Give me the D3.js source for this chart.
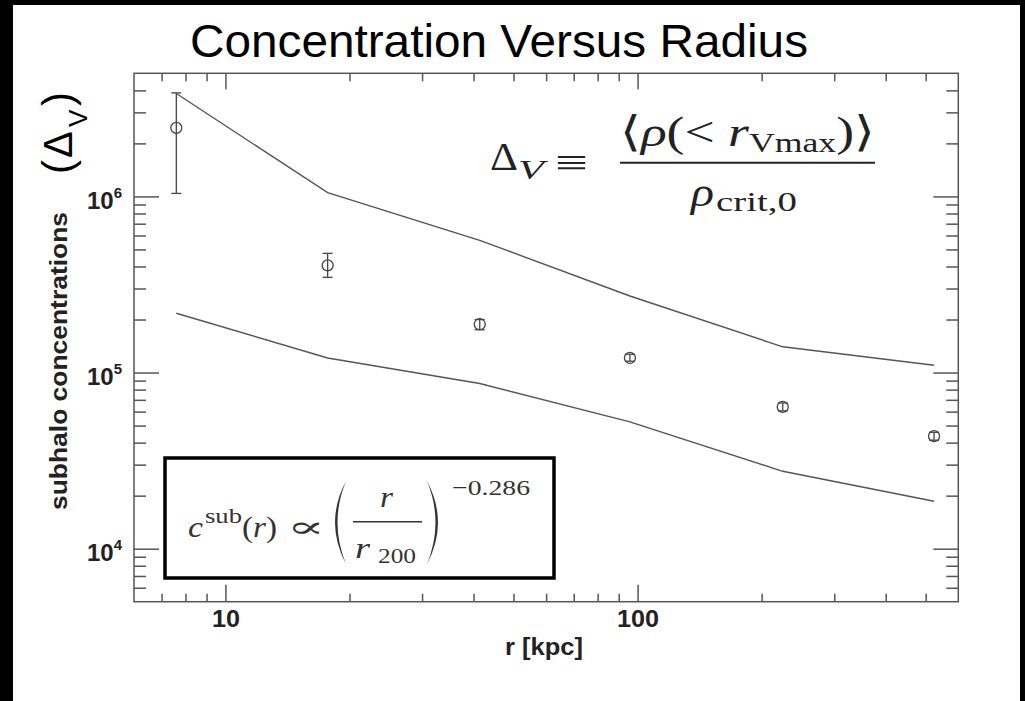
<!DOCTYPE html>
<html>
<head>
<meta charset="utf-8">
<script src="https://cdn.jsdelivr.net/npm/d3@7"></script>
<style>
  body { margin: 0; background: #000; }
  svg { display: block; }
  .axis line { stroke: #555; stroke-width: 1.5; }
  .axis path.domain { display: none; }
  .tick text { font-family: "Liberation Sans", Arial, sans-serif; font-weight: bold; fill: #222; }
  .math { font-family: "Liberation Serif", "DejaVu Serif", serif; fill: #222; }
</style>
</head>
<body>
<div id="chart"></div>
<script>
// radial bins of the subhalos [kpc]
const radius = [7.6, 17.7, 41.4, 95.8, 225, 524];
// mean concentration per bin, with error bar ends
const concentration = [2.45e6, 4.06e5, 1.88e5, 1.21e5, 6.38e4, 4.35e4];
const errLow = [1.04e6, 3.47e5, 1.75e5, 1.16e5, 6.06e4, 4.13e4];
const errHigh = [3.87e6, 4.75e5, 2.0e5, 1.27e5, 6.72e4, 4.58e4];
// scatter envelope
const upperBand = [3.84e6, 1.05e6, 5.63e5, 2.72e5, 1.40e5, 1.10e5];
const lowerBand = [2.17e5, 1.21e5, 8.66e4, 5.25e4, 2.75e4, 1.86e4];
// labelled ticks
const xTickLabels = [10, 100];
const yTickLabels = [1e4, 1e5, 1e6];

const W = 1025, H = 701;
const margin = {top: 73.3, left: 134, right: W - 958.3, bottom: H - 601.7};
const width = W - margin.left - margin.right;
const height = H - margin.top - margin.bottom;

const svg = d3.select("#chart").append("svg")
  .attr("width", W)
  .attr("height", H);

// black border, white page
svg.append("rect").attr("width", W).attr("height", H).attr("fill", "#000");
svg.append("rect").attr("x", 13).attr("y", 5).attr("width", 1007).attr("height", H - 5).attr("fill", "#fff");

svg.append("text")
  .attr("x", 499).attr("y", 57)
  .attr("text-anchor", "middle")
  .attr("font-family", "Liberation Sans, Arial, sans-serif")
  .attr("font-size", 47)
  .attr("textLength", 618).attr("lengthAdjust", "spacingAndGlyphs")
  .attr("fill", "#000")
  .text("Concentration Versus Radius");

const g = svg.append("g")
  .attr("transform", "translate(" + margin.left + "," + margin.top + ")");

const x = d3.scaleLog().domain([6, 600]).range([0, width]);
const y = d3.scaleLog().domain([5e3, 5e6]).range([height, 0]);

const xMinor = x.ticks().filter(d => !xTickLabels.includes(d) && d > 6 && d < 600);
const yMinor = y.ticks().filter(d => !yTickLabels.includes(d) && d > 5e3 && d < 5e6);

// ticks all point inward, majors longer than minors
g.append("g").attr("class", "axis").attr("transform", "translate(0," + height + ")")
  .call(d3.axisBottom(x).tickValues(xTickLabels).tickSize(-17).tickSizeOuter(0).tickPadding(8).tickFormat(d3.format("d")))
  .selectAll("text")
  .attr("font-size", 24).attr("dy", "0.71em")
  .attr("textLength", d => 14 * String(d).length).attr("lengthAdjust", "spacingAndGlyphs");
g.append("g").attr("class", "axis").attr("transform", "translate(0," + height + ")")
  .call(d3.axisBottom(x).tickValues(xMinor).tickSize(-8).tickSizeOuter(0).tickFormat(""));
g.append("g").attr("class", "axis")
  .call(d3.axisTop(x).tickValues(xTickLabels).tickSize(-16).tickSizeOuter(0).tickFormat(""));
g.append("g").attr("class", "axis")
  .call(d3.axisTop(x).tickValues(xMinor).tickSize(-8).tickSizeOuter(0).tickFormat(""));

const yAxis = g.append("g").attr("class", "axis")
  .call(d3.axisLeft(y).tickValues(yTickLabels).tickSize(-25).tickSizeOuter(0).tickPadding(12));
g.append("g").attr("class", "axis")
  .call(d3.axisLeft(y).tickValues(yMinor).tickSize(-12).tickSizeOuter(0).tickFormat(""));
g.append("g").attr("class", "axis").attr("transform", "translate(" + width + ",0)")
  .call(d3.axisRight(y).tickValues(yTickLabels).tickSize(-25).tickSizeOuter(0).tickFormat(""));
g.append("g").attr("class", "axis").attr("transform", "translate(" + width + ",0)")
  .call(d3.axisRight(y).tickValues(yMinor).tickSize(-12).tickSizeOuter(0).tickFormat(""));

// 10^n labels with a raised exponent
yAxis.selectAll(".tick text")
  .attr("dy", "0.5em")
  .attr("font-size", 24)
  .each(function(d) {
    const t = d3.select(this).text(null);
    t.append("tspan").text("10");
    t.append("tspan").attr("dy", -11).attr("font-size", 15).text(Math.round(Math.log10(d)));
  });

g.append("rect")
  .attr("width", width).attr("height", height)
  .attr("fill", "none").attr("stroke", "#555").attr("stroke-width", 1.5);

// axis titles
svg.append("text")
  .attr("x", 544).attr("y", 655)
  .attr("text-anchor", "middle")
  .attr("font-family", "Liberation Sans, Arial, sans-serif")
  .attr("font-weight", "bold").attr("font-size", 24)
  .attr("textLength", 78).attr("lengthAdjust", "spacingAndGlyphs")
  .attr("fill", "#222")
  .text("r [kpc]");

svg.append("text")
  .attr("transform", "translate(67,361) rotate(-90)")
  .attr("text-anchor", "middle")
  .attr("font-family", "Liberation Sans, Arial, sans-serif")
  .attr("font-weight", "bold").attr("font-size", 24)
  .attr("textLength", 298).attr("lengthAdjust", "spacingAndGlyphs")
  .attr("fill", "#222")
  .text("subhalo concentrations");

// (Delta_V) written sideways next to the axis title
const dv = svg.append("g")
  .attr("transform", "translate(72,132) rotate(-90)")
  .attr("font-family", "Liberation Sans, Arial, sans-serif")
  .attr("fill", "#000");
dv.append("text").attr("x", -42).attr("font-size", 42).text("(");
dv.append("text").attr("x", -26).attr("font-size", 40).text("Δ");
dv.append("text").attr("x", 5).attr("y", 15).attr("font-size", 26).text("V");
dv.append("text").attr("x", 26).attr("font-size", 42).text(")");

// envelope lines
const line = d3.line()
  .x(d => x(d.r))
  .y(d => y(d.v));
[upperBand, lowerBand].forEach(band => {
  g.append("path")
    .datum(radius.map((r, i) => ({r: r, v: band[i]})))
    .attr("d", line)
    .attr("fill", "none")
    .attr("stroke", "#555")
    .attr("stroke-width", 1.4);
});

// data points with error bars
const pts = radius.map((r, i) => ({r: r, c: concentration[i], lo: errLow[i], hi: errHigh[i]}));
const cap = 5;
const pg = g.selectAll(".pt").data(pts).enter().append("g")
  .attr("class", "pt")
  .attr("stroke", "#444").attr("stroke-width", 1.3).attr("fill", "none");
pg.append("line")
  .attr("x1", d => x(d.r)).attr("x2", d => x(d.r))
  .attr("y1", d => y(d.lo)).attr("y2", d => y(d.hi));
pg.append("line")
  .attr("x1", d => x(d.r) - cap).attr("x2", d => x(d.r) + cap)
  .attr("y1", d => y(d.lo)).attr("y2", d => y(d.lo));
pg.append("line")
  .attr("x1", d => x(d.r) - cap).attr("x2", d => x(d.r) + cap)
  .attr("y1", d => y(d.hi)).attr("y2", d => y(d.hi));
pg.append("circle")
  .attr("cx", d => x(d.r)).attr("cy", d => y(d.c))
  .attr("r", 5.5);

// definition of Delta_V, top right
const eq = svg.append("g").attr("class", "math");
eq.append("text").attr("x", 490).attr("y", 170).attr("font-size", 40)
  .attr("textLength", 28).attr("lengthAdjust", "spacingAndGlyphs").text("Δ");
eq.append("text").attr("x", 518).attr("y", 179).attr("font-size", 27).attr("font-style", "italic")
  .attr("textLength", 26).attr("lengthAdjust", "spacingAndGlyphs").text("V");
eq.append("text").attr("x", 555).attr("y", 176).attr("font-size", 40)
  .attr("textLength", 33).attr("lengthAdjust", "spacingAndGlyphs").text("≡");
const num = eq.append("text").attr("x", 620).attr("y", 146).attr("font-size", 42)
  .attr("textLength", 255).attr("lengthAdjust", "spacingAndGlyphs");
num.append("tspan").text("⟨");
num.append("tspan").attr("font-style", "italic").text("ρ");
num.append("tspan").text("(< ");
num.append("tspan").attr("font-style", "italic").text("r");
num.append("tspan").attr("y", 152).attr("font-size", 28).text("Vmax");
num.append("tspan").attr("y", 146).text(")⟩");
eq.append("line").attr("x1", 620).attr("x2", 875).attr("y1", 162.7).attr("y2", 162.7)
  .attr("stroke", "#222").attr("stroke-width", 2);
eq.append("text").attr("x", 691).attr("y", 206).attr("font-size", 40).attr("font-style", "italic")
  .attr("textLength", 23).attr("lengthAdjust", "spacingAndGlyphs").text("ρ");
eq.append("text").attr("x", 716).attr("y", 211).attr("font-size", 27)
  .attr("textLength", 81).attr("lengthAdjust", "spacingAndGlyphs").text("crit,0");

// fitted power law box
svg.append("rect")
  .attr("x", 165).attr("y", 458).attr("width", 389).attr("height", 120)
  .attr("fill", "#fff").attr("stroke", "#000").attr("stroke-width", 3.5);
const fit = svg.append("g").attr("class", "math").style("fill", "#333");
fit.append("text").attr("x", 188).attr("y", 537).attr("font-size", 30).attr("font-style", "italic")
  .attr("textLength", 15).attr("lengthAdjust", "spacingAndGlyphs").text("c");
fit.append("text").attr("x", 205).attr("y", 523).attr("font-size", 21)
  .attr("textLength", 37).attr("lengthAdjust", "spacingAndGlyphs").text("sub");
const fr = fit.append("text").attr("x", 242).attr("y", 537).attr("font-size", 30)
  .attr("textLength", 35).attr("lengthAdjust", "spacingAndGlyphs");
fr.append("tspan").text("(");
fr.append("tspan").attr("font-style", "italic").text("r");
fr.append("tspan").text(")");
fit.append("text").attr("x", 287).attr("y", 537).attr("font-size", 30)
  .attr("textLength", 38).attr("lengthAdjust", "spacingAndGlyphs").text("∝");
fit.append("text").attr("x", 380).attr("y", 507).attr("font-size", 30).attr("font-style", "italic")
  .attr("textLength", 13).attr("lengthAdjust", "spacingAndGlyphs").text("r");
fit.append("line").attr("x1", 353).attr("x2", 422).attr("y1", 521.7).attr("y2", 521.7)
  .attr("stroke", "#333").attr("stroke-width", 1.5);
fit.append("text").attr("x", 355).attr("y", 558).attr("font-size", 30).attr("font-style", "italic")
  .attr("textLength", 15).attr("lengthAdjust", "spacingAndGlyphs").text("r");
fit.append("text").attr("x", 378).attr("y", 563).attr("font-size", 20)
  .attr("textLength", 38).attr("lengthAdjust", "spacingAndGlyphs").text("200");
fit.append("text").attr("x", 452).attr("y", 495).attr("font-size", 22)
  .attr("textLength", 78).attr("lengthAdjust", "spacingAndGlyphs").text("−0.286");

// tall parentheses as crescents
function paren(x0, top, bot, bulge) {
  const mid = (top + bot) / 2;
  return "M" + x0 + "," + top +
    "Q" + (x0 - 2 * bulge) + "," + mid + " " + x0 + "," + bot +
    "Q" + (x0 - 2 * bulge + Math.sign(bulge) * 5) + "," + mid + " " + x0 + "," + top + "Z";
}
fit.append("path").attr("d", paren(346, 481, 564, 11)).attr("fill", "#333");
fit.append("path").attr("d", paren(427, 481, 564, -11)).attr("fill", "#333");
</script>
</body>
</html>
